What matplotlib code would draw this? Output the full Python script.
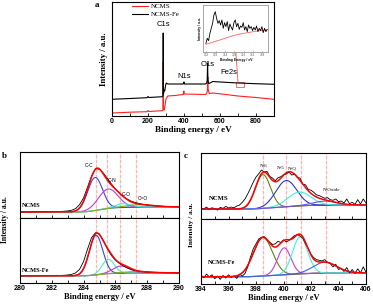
import numpy as np
import matplotlib
matplotlib.use('Agg')
import matplotlib.pyplot as plt
from matplotlib.patches import Rectangle
from matplotlib.ticker import MultipleLocator

# ---- panel a : survey spectra (eV, intensity) ----
surv_fe_x = [0, 100, 195, 200, 205, 280, 283, 284.5, 286, 289, 293, 298, 302, 310, 395, 398,
             400, 402, 520, 526, 529, 531, 533, 537, 545, 560, 600, 700, 800, 900]
surv_fe_y = [16.7, 17.5, 18.3, 19.5, 18.5, 19.3, 20, 83, 22, 26, 25, 31, 33, 32, 32, 33,
             34, 32, 32, 33, 36, 53, 36, 32.5, 33, 34.5, 34, 33, 32.3, 31.7]
surv_x = [0, 100, 195, 200, 205, 280, 283, 284.5, 286, 290, 294, 300, 310, 350, 396, 399,
          401, 520, 527, 530, 532, 534, 540, 560, 600, 700, 800, 900]
surv_y = [3, 3.8, 4.3, 5.5, 4.5, 5.3, 6, 54, 8, 6, 10, 17, 20, 20.5, 21.5, 25,
          22, 21.5, 23, 26, 39, 27, 22.5, 23, 22.2, 20, 18.5, 16.7]

# inset (Fe region)
inset_x = np.linspace(701.7, 741.3, 47)
inset_fe = [10, 25, 18, 40, 55, 70, 95, 105, 85, 70, 78, 65, 80, 55, 72, 60, 75, 48, 68, 58,
            50, 72, 80, 60, 70, 52, 62, 58, 72, 50, 60, 45, 65, 55, 60, 48, 58, 50, 62, 45,
            55, 48, 60, 42, 55, 45, 52]
inset_red_x = [701.7, 704, 708, 712, 716, 720, 725, 730, 735, 741.3]
inset_red_y = [7, 10, 16, 22, 28, 34, 39, 43, 47, 50]

# ---- panel b : C1s ----
c1s_x = np.linspace(280, 290, 41)
c1s_ncms = [0, 0, 0, 0.2, 0.3, 0.4, 0.5, 0.6, 0.8, 1, 1.3, 2, 3,
            5, 10, 22, 42, 74, 106, 128, 127, 115, 99, 83, 68, 56, 46, 38, 32,
            28, 25, 22.5, 20.5, 19, 18, 17.2, 16.6, 16.2, 15.8, 15.5, 15.2]
c1s_fe = [0, 0, 0, 0.1, 0.2, 0.3, 0.4, 0.5, 0.6, 0.8, 1, 1.5, 2.5,
          4.5, 9, 20, 44, 82, 117, 132, 128, 108, 82, 62, 48, 38, 30, 24, 19.5,
          16, 14, 12.5, 11.5, 10.8, 10.3, 10, 9.7, 9.5, 9.3, 9.1, 9]
# fitted peaks: (centre, height, fwhm)
c1s_fit_ncms = [(284.72, 98, 1.1), (285.55, 58, 1.45), (286.45, 11, 1.2), (287.5, 7, 2.0)]
c1s_fit_fe = [(284.78, 121, 1.0), (285.55, 44, 0.9), (286.35, 22, 1.2), (287.3, 4, 2.0)]
c1s_bg = [15, 9]
c1s_names = ['C-C', 'C-N', 'C-O', 'C=O']
c1s_marks = [284.8, 285.5, 286.3, 287.3]

# ---- panel c : N1s ----
n1s_x = np.linspace(394, 406, 61)
n1s_ncms = [3, 0, 6, -2, 4, 1, -3, 5, 2, 8, 3,
            6, 4, 9, 12, 20, 30, 45, 62, 80, 95,
            105, 116, 110, 112, 97, 92, 84, 93, 96, 102,
            104, 110, 101, 104, 94, 92, 74, 72, 58, 56,
            50, 42, 40, 36, 32, 34, 28, 26, 30, 22,
            24, 18, 30, 16, 20, 14, 28, 15, 30, 18]
n1s_fe = [5, -3, 8, 0, 6, -6, 2, -8, 4, -4, 6,
          -2, 3, -5, 8, 2, 10, 30, 60, 85, 100,
          115, 120, 122, 112, 105, 98, 100, 108, 104, 112,
          106, 110, 118, 125, 128, 124, 118, 100, 85, 68,
          58, 52, 50, 48, 52, 44, 40, 30, 38, 22,
          26, 16, 28, 12, 22, 10, 24, 12, 30, 14]
n1s_fit_ncms = [(398.5, 100, 1.3), (400.2, 78, 1.8), (401.15, 41, 2.0), (403.0, 12, 2.0)]
n1s_fit_fe = [(398.5, 117, 1.65), (400.05, 82, 1.15), (401.2, 112, 1.3), (403.0, 33, 2.0)]
n1s_bg = [12, 12]
n1s_names = ['N-6', 'N-5', 'N-Q', 'N-Oxide']
n1s_marks = [398.5, 400.15, 401.25, 403.1]

W, H = 373, 306
SERIF = 'Liberation Serif'
SANS = 'Liberation Sans'
MARK = '#ffb4b4'


def box(l, t, r, b):
    return [l / W, 1 - b / H, (r - l) / W, (b - t) / H]


def gauss(x, c, h, w):
    return h * np.exp(-4 * np.log(2) * (x - c) ** 2 / w ** 2)


def draw_fit(ax, xd, yd, fit, colors, bg_hi, bg_color):
    x = np.linspace(xd[0], xd[-1], 600)
    comps = [gauss(x, *p) for p in fit]
    tot = np.sum(comps, axis=0)
    cum = np.cumsum(tot)
    bg = bg_hi * cum / cum[-1]
    ax.plot(x, bg, color=bg_color, lw=0.8)
    for comp, col in zip(comps, colors):
        ax.plot(x, bg + comp, color=col, lw=0.8)
    ax.plot(xd, yd, color='black', lw=0.6)
    ax.plot(x, bg + tot, color='red', lw=1.1)


def style(ax, major, minor, labels):
    ax.xaxis.set_major_locator(MultipleLocator(major))
    ax.xaxis.set_minor_locator(MultipleLocator(minor))
    ax.tick_params(axis='x', which='both', direction='in', length=2.2, width=0.6,
                   labelsize=5, pad=1.5, labelbottom=labels, top=False)
    ax.set_yticks([])
    for s in ax.spines.values():
        s.set_linewidth(0.8)
    for t in ax.get_xticklabels():
        t.set_fontfamily(SANS)
        t.set_fontweight('bold')


fig = plt.figure(figsize=(W / 100, H / 100), dpi=100)

# ---------------- a ----------------
ax = fig.add_axes(box(112, 1.7, 274, 116))
ax.plot(surv_x, surv_y, color='#ff2020', lw=0.8, label='NCMS')
ax.plot(surv_fe_x, surv_fe_y, color='black', lw=0.8, label='NCMS-Fe')
ax.set_xlim(0, 900)
ax.set_ylim(0, 114.3)
style(ax, 200, 100, True)
ax.set_xlabel('Binding energy / eV', fontfamily=SERIF, fontweight='bold', fontsize=6.6, labelpad=1)
ax.set_ylabel('Intensity / a.u.', fontfamily=SERIF, fontweight='bold', fontsize=6.3, labelpad=3)
ax.legend(loc='upper left', frameon=False, prop={'family': SERIF, 'size': 5},
          handlelength=2.3, handletextpad=0.3, labelspacing=0.25,
          borderaxespad=0.2, bbox_to_anchor=(0.1, 1.02))
kw = dict(fontfamily=SANS, fontsize=5.5, ha='center', va='center')
ax.text(286, 91, 'C1s', **kw)
ax.text(400, 39.5, 'N1s', **kw)
ax.text(530, 52, 'O1s', **kw)
ax.text(648, 43, 'Fe2s', **kw)
ax.add_patch(Rectangle((688, 29.5), 46, 4.5, fill=False, ec='#ff5050', lw=0.6))
ax.plot([700, 688], [34, 64], color='#ff5050', lw=0.6)

ins = fig.add_axes(box(203.3, 5, 268.3, 52.3))
ins.plot(inset_red_x, inset_red_y, color='#ff6060', lw=0.6)
ins.plot(inset_x, inset_fe, color='black', lw=0.6)
ins.set_xlim(700, 742)
ins.set_ylim(-17, 125)
ins.set_xticks([702, 708, 714, 720, 726, 732, 738])
ins.set_yticks([])
ins.tick_params(direction='in', length=1, width=0.4, labelsize=2, pad=0.8, colors='#555555')
for s in ins.spines.values():
    s.set_color('#999999')
    s.set_linewidth(0.6)
ins.set_xlabel('Binding Energy / eV', fontsize=2.4, labelpad=0.6, fontfamily=SANS, fontweight='bold')
ins.set_ylabel('Intensity / a.u.', fontsize=2.4, labelpad=1, fontfamily=SANS, fontweight='bold')

fig.text(97 / W, 1 - 5 / H, 'a', fontfamily=SERIF, fontweight='bold', fontsize=6.5, ha='center', va='center')

# ---------------- b ----------------
b_up = fig.add_axes(box(20, 152, 179, 218))
b_lo = fig.add_axes(box(20, 218, 179, 283))
draw_fit(b_up, c1s_x, c1s_ncms, c1s_fit_ncms, ['#3848d8', '#c040c8', '#40f0d0', '#80b020'], c1s_bg[0], '#5a86a8')
draw_fit(b_lo, c1s_x, c1s_fe, c1s_fit_fe, ['#3848d8', '#40f0d0', '#c040c8', '#80b020'], c1s_bg[1], '#5a86a8')
b_up.set_ylim(-18, 178)
b_lo.set_ylim(-22, 177)
for a_ in (b_up, b_lo):
    a_.set_xlim(280, 290)
    for m in c1s_marks:
        a_.axvline(m, color=MARK, lw=0.9, ls=(0, (3, 1)), zorder=0)
style(b_up, 2, 1, False)
style(b_lo, 2, 1, True)
b_lo.set_xlabel('Binding energy / eV', fontfamily=SERIF, fontweight='bold', fontsize=6, labelpad=1)
lk = dict(fontfamily=SANS, fontsize=3.5, ha='center', va='center')
for name, (xx, yy) in zip(c1s_names, [(284.32, 138), (285.78, 92), (286.65, 52), (287.71, 39)]):
    b_up.text(xx, yy, name, **lk)
b_up.text(280.12, 18, 'NCMS', fontfamily=SERIF, fontweight='bold', fontsize=4.6, va='center')
b_lo.text(280.12, 17, 'NCMS-Fe', fontfamily=SERIF, fontweight='bold', fontsize=4.6, va='center')
fig.text(4 / W, 1 - 156 / H, 'b', fontfamily=SERIF, fontweight='bold', fontsize=6.5, ha='center', va='center')
fig.text(5 / W, 1 - 220 / H, 'Intensity / a.u.', fontfamily=SERIF, fontweight='bold', fontsize=5.5,
         rotation=90, ha='center', va='center')

# ---------------- c ----------------
c_up = fig.add_axes(box(201, 152.5, 366, 218.5))
c_lo = fig.add_axes(box(201, 218.5, 366, 284))
draw_fit(c_up, n1s_x, n1s_ncms, n1s_fit_ncms, ['#6a7d14', '#2838d0', '#40f0e0', '#7050e0'], n1s_bg[0], '#9848c8')
draw_fit(c_lo, n1s_x, n1s_fe, n1s_fit_fe, ['#6a7d14', '#c040d0', '#40f0e0', '#4060e0'], n1s_bg[1], '#9848c8')
c_up.set_ylim(-28, 168)
c_lo.set_ylim(-22, 177)
for a_ in (c_up, c_lo):
    a_.set_xlim(394, 406)
    for m in n1s_marks:
        a_.axvline(m, color=MARK, lw=0.9, ls=(0, (3, 1)), zorder=0)
style(c_up, 2, 1, False)
style(c_lo, 2, 1, True)
c_lo.set_xlabel('Binding energy / eV', fontfamily=SERIF, fontweight='bold', fontsize=6, labelpad=1)
nk = dict(fontfamily=SERIF, fontsize=3.6, ha='center', va='center')
for name, (xx, yy) in zip(n1s_names, [(398.58, 128), (399.8, 122), (400.67, 120), (403.52, 57)]):
    c_up.text(xx, yy, name, **nk)
c_up.text(394.6, 32, 'NCMS', fontfamily=SERIF, fontweight='bold', fontsize=4.8, va='center')
c_lo.text(394.5, 43, 'NCMS-Fe', fontfamily=SERIF, fontweight='bold', fontsize=4.6, va='center')
fig.text(186 / W, 1 - 156 / H, 'c', fontfamily=SERIF, fontweight='bold', fontsize=6.5, ha='center', va='center')
fig.text(192 / W, 1 - 225 / H, 'Intensity / a.u.', fontfamily=SERIF, fontweight='bold', fontsize=5.2,
         rotation=90, ha='center', va='center')

fig.savefig('out.png', dpi=100)
